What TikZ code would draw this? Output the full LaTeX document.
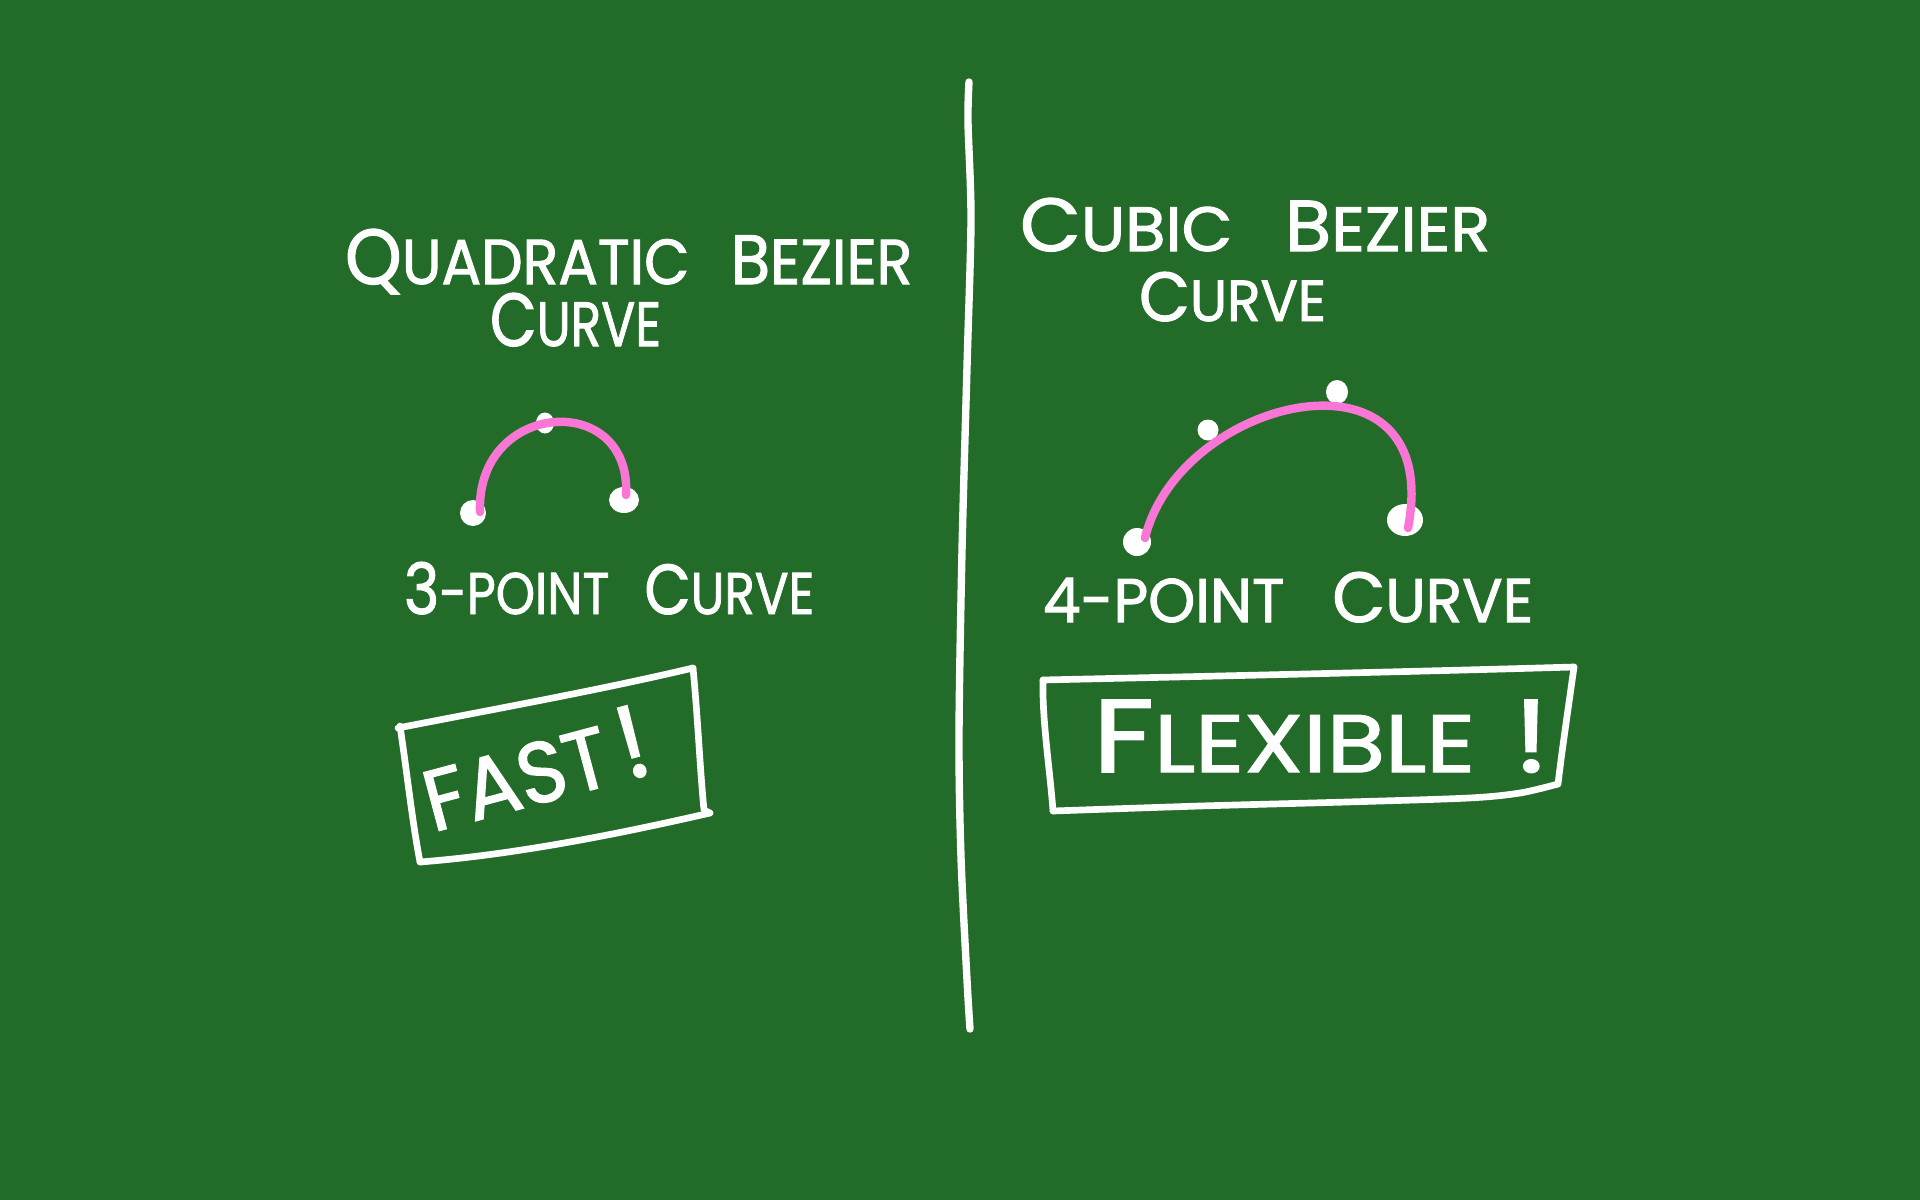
\documentclass[tikz,border=0pt]{standalone}
\usepackage{fontspec}
\setmainfont{Poppins}[FakeBold=1.6]
\usepackage{graphicx}
\definecolor{board}{RGB}{35,107,40}
\definecolor{pinkc}{RGB}{250,118,214}
\newcommand{\handtxt}[3]{\resizebox{#1cm}{#2cm}{#3}}
\newcommand{\smt}[1]{{\fontsize{10}{10}\selectfont #1}}
\newcommand{\bgt}[2]{{\fontsize{#1}{#1}\selectfont #2}}
\tikzset{
  chalk/.style={draw=white, line width=1.9pt, line cap=round, line join=round},
  txt/.style={inner sep=0pt, outer sep=0pt, text=white, anchor=base west},
  bez/.style={draw=pinkc, line width=2.4pt, line cap=round},
}
\begin{document}
\begin{tikzpicture}[x=0.01cm, y=-0.01cm]
\fill[board] (0,0) rectangle (1920,1200);
\useasboundingbox (0,0) rectangle (1920,1200);

% divider
\draw[chalk, line width=2.1pt] plot[smooth] coordinates {(969,82) (968,122) (971,220) (967,367) (962,551) (959,735) (961,857) (967,980) (970,1029)};

% titles
\node[txt] (t1) at (345,284) {\handtxt{5.67}{0.55}{\bgt{12.3}{Q}\smt{UADRATIC}\hspace{0.7em}\bgt{11}{B}\smt{EZIER}}};
\node[txt] (t2) at (490,346) {\handtxt{1.71}{0.53}{\bgt{12}{C}\smt{URVE}}};
\node[txt] (t3) at (1020,251) {\handtxt{4.70}{0.53}{\bgt{12}{C}\smt{UBIC}\hspace{0.8em}\bgt{11.5}{B}\smt{EZIER}}};
\node[txt] (t4) at (1139,321) {\handtxt{1.87}{0.49}{\bgt{12}{C}\smt{URVE}}};

% left quadratic curve
\fill[white] (473,513) ellipse [x radius=13, y radius=13];
\fill[white] (545,423) ellipse [x radius=9, y radius=10.5];
\fill[white] (624,500) ellipse [x radius=15, y radius=13];
\draw[bez] (480,512) .. controls (476,400) and (632,390) .. (626,495);

% right cubic curve
\fill[white] (1137,542) ellipse [x radius=14, y radius=14];
\fill[white] (1208,430) ellipse [x radius=10.5, y radius=10.5];
\fill[white] (1337,392) ellipse [x radius=11, y radius=12];
\fill[white] (1405,520) ellipse [x radius=18, y radius=16];
\draw[bez] (1145,538) .. controls (1180,395) and (1445,335) .. (1408,528);

% labels
\node[txt] (t5) at (404,614) {\handtxt{4.10}{0.52}{\bgt{12}{3}\smt{-POINT}\hspace{0.7em}\bgt{12}{C}\smt{URVE}}};
\node[txt] (t6) at (1043,622) {\handtxt{4.90}{0.50}{\bgt{10}{4}\smt{-POINT}\hspace{0.8em}\bgt{11.5}{C}\smt{URVE}}};

% left box
\draw[chalk] (398,728) .. controls (500,708) and (600,690) .. (693,668);
\draw[chalk] (693,668) .. controls (698,720) and (700,770) .. (704,810) -- (710,813);
\draw[chalk] (710,813) .. controls (610,836) and (510,855) .. (420,862);
\draw[chalk] (400,726) .. controls (408,780) and (412,820) .. (420,862);
\node[inner sep=0pt, text=white, rotate=15] (fast) at (535,768) {\handtxt{2.30}{0.72}{\smt{FAST}\hspace{0.15em}\bgt{12}{!}}};

% right box
\draw[chalk] (1043,680) .. controls (1220,676) and (1400,672) .. (1574,667);
\draw[chalk] (1574,667) .. controls (1568,710) and (1562,750) .. (1558,784);
\draw[chalk] plot[smooth] coordinates {(1558,784) (1520,793) (1469,798) (1347,802) (1200,806) (1053,811)};
\draw[chalk] (1043,680) .. controls (1042,720) and (1050,770) .. (1053,811);
\node[txt] (flex) at (1093,772) {\handtxt{4.56}{0.72}{\bgt{12.7}{F}\smt{LEXIBLE}\hspace{0.4em}\bgt{12.7}{!}}};
\end{tikzpicture}
\end{document}
